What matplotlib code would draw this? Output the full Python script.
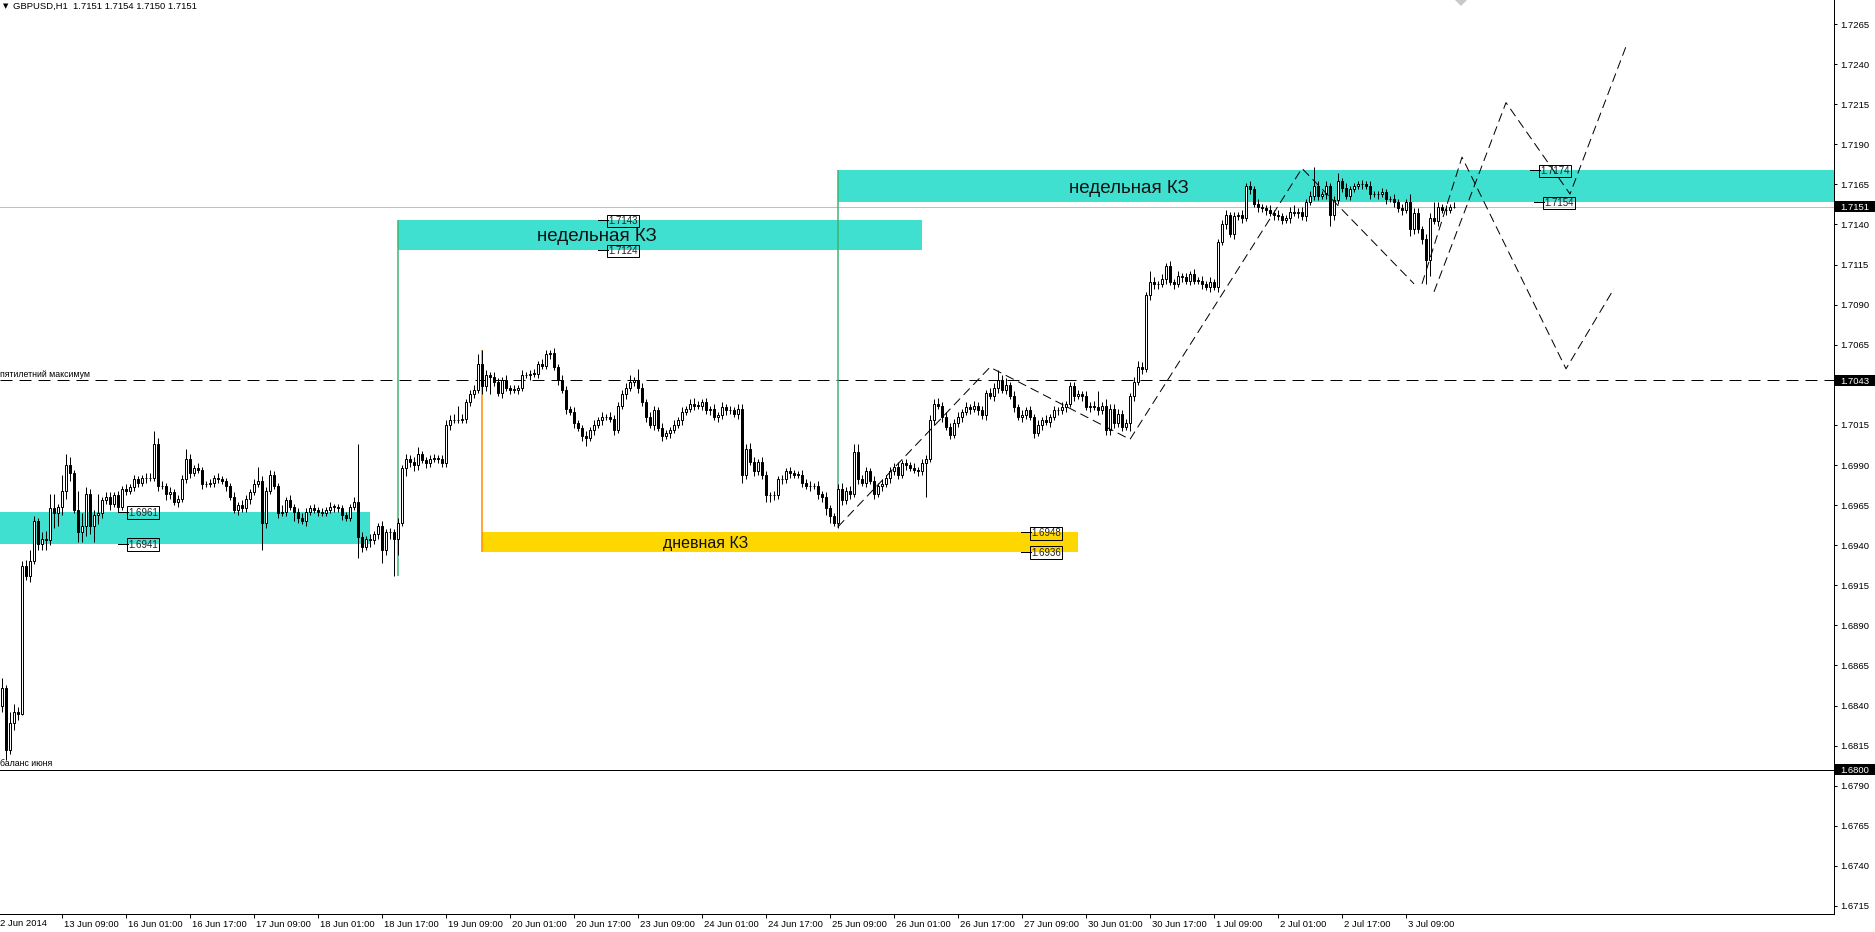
import numpy as np
import matplotlib
matplotlib.use('Agg')
import matplotlib.pyplot as plt
from matplotlib.patches import Rectangle, Polygon
from matplotlib.transforms import blended_transform_factory, ScaledTranslation

plt.rcParams['font.family'] = ['Liberation Sans', 'DejaVu Sans']

# GBPUSD H1, bar 0 = 12 Jun 17:00; prices in pips above 1.6800
base = 1.6800
first_open = 55
closes = [40, 51, 12, 29, 36, 35, 127, 121, 130, 155,
          141, 144, 143, 163, 160, 164, 174, 190, 185, 162,
          148, 152, 172, 152, 159, 160, 168, 170, 166, 171,
          164, 175, 174, 176, 181, 179, 182, 182, 182, 203,
          177, 177, 172, 173, 167, 169, 181, 194, 185, 188,
          187, 178, 178, 179, 182, 181, 180, 177, 170, 162,
          165, 163, 169, 173, 178, 180, 154, 174, 184, 177,
          160, 161, 168, 164, 161, 157, 155, 161, 163, 162,
          161, 160, 162, 164, 164, 163, 159, 157, 164, 167,
          145, 139, 144, 143, 147, 152, 137, 148, 148, 144,
          154, 188, 194, 192, 190, 197, 193, 191, 194, 194,
          194, 191, 215, 218, 218, 218, 219, 229, 234, 237,
          253, 239, 246, 245, 242, 235, 243, 238, 237, 237,
          238, 246, 246, 247, 247, 253, 252, 259, 260, 251,
          243, 237, 225, 223, 216, 213, 208, 207, 212, 215,
          218, 220, 220, 219, 212, 227, 234, 238, 242, 243,
          238, 229, 220, 215, 224, 213, 208, 210, 212, 215,
          218, 223, 225, 228, 227, 227, 229, 224, 225, 220,
          221, 226, 224, 224, 222, 225, 184, 200, 192, 186,
          192, 184, 171, 171, 171, 181, 181, 186, 185, 184,
          184, 179, 177, 177, 177, 172, 170, 163, 158, 154,
          175, 168, 174, 172, 198, 181, 179, 186, 180, 172,
          177, 178, 182, 186, 189, 184, 191, 190, 188, 187,
          186, 191, 194, 218, 228, 227, 220, 214, 209, 216,
          220, 223, 226, 225, 227, 224, 221, 235, 233, 238,
          243, 237, 240, 233, 226, 220, 221, 224, 220, 210,
          215, 218, 217, 220, 224, 224, 226, 228, 239, 233,
          234, 233, 226, 227, 226, 224, 227, 212, 225, 216,
          222, 214, 216, 233, 242, 251, 250, 296, 304, 303,
          303, 306, 314, 304, 303, 308, 307, 305, 309, 305,
          305, 303, 301, 304, 301, 329, 340, 346, 334, 345,
          346, 344, 364, 362, 353, 351, 350, 349, 347, 346,
          345, 343, 344, 348, 347, 348, 345, 354, 358, 364,
          358, 359, 364, 346, 355, 367, 363, 358, 362, 364,
          365, 365, 364, 359, 359, 359, 360, 356, 356, 354,
          350, 349, 354, 337, 347, 337, 331, 318, 344, 342,
          351, 349, 349, 351, 351]
# wick lengths beyond the body, pips
up_wick = [5, 6, 2, 7, 5, 3, 3, 4, 7, 3,
           2, 4, 5, 9, 9, 2, 10, 7, 5, 2,
           12, 8, 4, 3, 3, 12, 2, 3, 3, 2,
           3, 2, 3, 2, 3, 2, 2, 3, 3, 8,
           4, 3, 2, 3, 2, 2, 3, 6, 3, 2,
           3, 2, 2, 2, 2, 3, 2, 2, 2, 3,
           2, 3, 2, 2, 3, 9, 3, 2, 3, 2,
           2, 4, 2, 3, 2, 2, 3, 2, 2, 3,
           2, 2, 2, 3, 2, 2, 2, 2, 2, 3,
           36, 3, 2, 3, 2, 2, 3, 2, 3, 2,
           3, 2, 3, 2, 3, 4, 2, 2, 2, 3,
           2, 2, 3, 3, 4, 9, 3, 2, 3, 3,
           6, 9, 3, 2, 3, 2, 2, 3, 2, 3,
           2, 3, 2, 2, 3, 2, 3, 3, 2, 3,
           2, 3, 2, 2, 3, 2, 2, 3, 2, 3,
           2, 3, 2, 3, 2, 2, 3, 3, 4, 2,
           7, 3, 2, 3, 3, 2, 3, 2, 2, 3,
           2, 3, 2, 3, 4, 3, 2, 3, 2, 3,
           2, 3, 2, 3, 2, 3, 3, 3, 4, 3,
           2, 3, 2, 2, 3, 2, 3, 2, 3, 2,
           2, 3, 2, 3, 2, 3, 2, 3, 2, 2,
           3, 4, 2, 3, 5, 5, 3, 3, 2, 3,
           2, 3, 2, 3, 2, 3, 2, 3, 2, 3,
           2, 3, 2, 3, 3, 4, 2, 3, 2, 3,
           3, 2, 3, 2, 3, 2, 3, 2, 3, 3,
           6, 3, 4, 2, 3, 2, 3, 2, 3, 2,
           3, 2, 3, 2, 3, 2, 3, 2, 3, 3,
           3, 2, 3, 2, 3, 10, 2, 4, 3, 3,
           3, 2, 3, 2, 3, 4, 3, 2, 7, 3,
           2, 3, 2, 3, 2, 3, 2, 3, 2, 3,
           2, 3, 2, 3, 2, 2, 3, 3, 2, 3,
           2, 3, 2, 3, 2, 3, 2, 2, 3, 2,
           3, 2, 2, 3, 4, 2, 3, 2, 3, 12,
           3, 2, 3, 2, 3, 5, 2, 3, 2, 2,
           2, 3, 2, 3, 2, 2, 3, 2, 2, 3,
           2, 3, 2, 5, 3, 3, 2, 3, 3, 10,
           3, 2, 3, 2, 3]
dn_wick = [2, 4, 6, 2, 4, 4, 1, 3, 4, 2,
           4, 4, 6, 3, 9, 8, 5, 5, 5, 2,
           6, 6, 6, 5, 10, 6, 3, 2, 4, 2,
           3, 2, 3, 2, 2, 3, 2, 3, 2, 2,
           3, 2, 4, 3, 2, 3, 2, 2, 3, 2,
           2, 3, 2, 2, 3, 2, 2, 3, 2, 2,
           3, 2, 2, 3, 2, 2, 17, 3, 2, 2,
           3, 2, 3, 2, 6, 3, 2, 3, 2, 2,
           3, 2, 2, 2, 3, 2, 3, 2, 2, 2,
           13, 3, 2, 4, 2, 3, 8, 3, 4, 23,
           10, 2, 5, 3, 4, 3, 2, 3, 2, 2,
           3, 2, 2, 3, 2, 2, 2, 3, 2, 2,
           2, 5, 3, 11, 3, 2, 3, 2, 3, 2,
           3, 2, 2, 3, 2, 3, 2, 2, 3, 2,
           3, 2, 3, 2, 3, 2, 3, 5, 2, 3,
           2, 3, 2, 2, 3, 2, 2, 3, 2, 3,
           3, 2, 3, 2, 3, 2, 3, 2, 3, 2,
           2, 3, 2, 2, 3, 2, 3, 2, 3, 2,
           3, 2, 3, 2, 2, 3, 5, 3, 2, 3,
           2, 3, 4, 4, 3, 2, 3, 2, 3, 2,
           2, 3, 2, 3, 2, 3, 3, 4, 4, 2,
           3, 3, 2, 3, 2, 3, 2, 3, 2, 3,
           2, 3, 2, 3, 2, 3, 2, 3, 2, 2,
           3, 2, 21, 2, 3, 2, 3, 2, 3, 2,
           2, 3, 2, 3, 2, 3, 2, 3, 2, 3,
           3, 2, 3, 2, 3, 2, 3, 2, 2, 3,
           2, 3, 2, 3, 2, 3, 2, 3, 2, 3,
           2, 3, 2, 3, 2, 3, 2, 3, 3, 3,
           2, 3, 2, 5, 3, 2, 3, 2, 3, 3,
           3, 2, 3, 2, 3, 2, 3, 2, 3, 2,
           2, 3, 2, 3, 2, 3, 2, 3, 2, 3,
           2, 3, 2, 3, 2, 3, 2, 3, 2, 3,
           2, 3, 2, 3, 2, 3, 2, 3, 2, 3,
           3, 2, 3, 7, 3, 2, 3, 2, 3, 2,
           2, 3, 2, 3, 2, 3, 2, 3, 2, 3,
           2, 3, 2, 4, 3, 2, 3, 15, 10, 2,
           3, 2, 3, 2, 1]

time_labels = ['13 Jun 09:00', '16 Jun 01:00', '16 Jun 17:00', '17 Jun 09:00', '18 Jun 01:00',
               '18 Jun 17:00', '19 Jun 09:00', '20 Jun 01:00', '20 Jun 17:00', '23 Jun 09:00',
               '24 Jun 01:00', '24 Jun 17:00', '25 Jun 09:00', '26 Jun 01:00', '26 Jun 17:00',
               '27 Jun 09:00', '30 Jun 01:00', '30 Jun 17:00', '1 Jul 09:00', '2 Jul 01:00',
               '2 Jul 17:00', '3 Jul 09:00']

# zones (bar from, bar to, low, high)
zone_x0 = [-2, 100, 210, 121]
zone_x1 = [93, 231, 470, 270]
zone_lo = [1.6941, 1.7124, 1.7154, 1.6936]
zone_hi = [1.6961, 1.7143, 1.7174, 1.6948]
zone_color = ['#40E0D0', '#40E0D0', '#40E0D0', '#FFD700']
zone_text = ['', 'недельная КЗ', 'недельная КЗ', 'дневная КЗ']
zone_text_x = [0, 149.7, 282.8, 176.9]
zone_text_size = [0, 13.5, 13.5, 11.5]

vline_bar = [100, 210, 121]
vline_lo = [1.6921, 1.6951, 1.6936]
vline_hi = [1.7143, 1.7174, 1.7062]
vline_color = ['#3CB371', '#3CB371', '#FF8C00']

# zigzag projections (bar, price)
zz_main_x = [210, 248, 283, 326, 354]
zz_main_y = [1.69515, 1.7051, 1.7006, 1.7175, 1.7103]
zz_a_x = [356, 366, 392, 404]
zz_a_y = [1.7103, 1.7182, 1.7050, 1.7100]
zz_b_x = [359, 377, 393, 407]
zz_b_y = [1.7098, 1.7216, 1.7159, 1.7251]

# price labels of the zones
label_bar = [30, 30, 150, 150, 255.75, 255.75, 383, 384]
label_price = [1.6961, 1.6941, 1.7143, 1.7124, 1.6948, 1.6936, 1.7174, 1.7154]

closes = np.array(closes)
opens = np.concatenate([[first_open], closes[:-1]])
highs = np.maximum(opens, closes) + np.array(up_wick)
lows = np.minimum(opens, closes) - np.array(dn_wick)
o = base + opens / 10000
c = base + closes / 10000
h = base + highs / 10000
l = base + lows / 10000
bars = np.arange(len(closes))

px = 0.72
fig = plt.figure(figsize=(18.75, 9.32), dpi=100)
ax = fig.add_axes([0, 18 / 932, 1834 / 1875, 914 / 932])
ax.set_xlim(0.5, 459)
ax.set_ylim(1.6710, 1.7280)

for x0, x1, lo, hi, col, txt, tx, ts in zip(zone_x0, zone_x1, zone_lo, zone_hi, zone_color,
                                          zone_text, zone_text_x, zone_text_size):
    ax.add_patch(Rectangle((x0, lo), x1 - x0, hi - lo, facecolor=col, edgecolor='none', zorder=1))
    if txt:
        ax.text(tx, (lo + hi) / 2, txt, fontsize=ts, ha='center', va='center_baseline',
                color='#111111', zorder=6)

ax.axhline(1.7151, color='#C0C0C0', lw=px, zorder=2)
ax.axhline(1.7043, color='black', lw=px, ls=(0, (12, 7)), zorder=2)
ax.axhline(1.6800, color='black', lw=px, zorder=2)
ax.vlines(vline_bar, vline_lo, vline_hi, colors=vline_color, lw=1.5 * px, zorder=2)

ax.annotate('пятилетний максимум', xy=(0, 1.7043), xycoords=('axes fraction', 'data'),
            xytext=(0, 1), textcoords='offset points', fontsize=6.3, va='bottom', ha='left')
ax.annotate('баланс июня', xy=(0, 1.6800), xycoords=('axes fraction', 'data'),
            xytext=(0, 1), textcoords='offset points', fontsize=6.3, va='bottom', ha='left')

# candles
ax.vlines(bars, l, h, colors='black', lw=px, zorder=3)
faces = ['white' if cc > oo else 'black' for oo, cc in zip(o, c)]
ax.bar(bars, np.maximum(np.abs(c - o), 0.00002), bottom=np.minimum(o, c), width=0.65,
       color=faces, edgecolor='black', lw=px, zorder=4)

for xs, ys in [(zz_main_x, zz_main_y), (zz_a_x, zz_a_y), (zz_b_x, zz_b_y)]:
    ax.plot(xs, ys, color='black', lw=px, ls=(0, (9, 5)), zorder=5)

for bx, pr in zip(label_bar, label_price):
    ax.plot([bx, bx + 2.5], [pr, pr], color='black', lw=px, zorder=6)
    ax.text(bx + 2.6, pr, f'{pr:.4f}', fontsize=7, ha='left', va='center_baseline', zorder=6,
            color='#222222', bbox=dict(boxstyle='square,pad=0.12', fc='none', ec='black', lw=px))

# axes look
for s in ['top', 'left']:
    ax.spines[s].set_visible(False)
for s in ['right', 'bottom']:
    ax.spines[s].set_linewidth(px)
ax.yaxis.tick_right()
yt = [1.7265 - 0.0025 * k for k in range(23)]
ax.set_yticks(yt)
# the 1.7040 label sits under the 1.7043 tag
ax.set_yticklabels(['' if abs(v - 1.7040) < 1e-6 else f'{v:.4f}' for v in yt])
ax.tick_params(axis='y', direction='out', length=2.5, width=px, pad=2, labelsize=6.8)
ax.set_xticks([16 * (k + 1) for k in range(len(time_labels))])
ax.set_xticklabels(time_labels, ha='left')
ax.tick_params(axis='x', direction='out', length=3, width=px, pad=1.5, labelsize=6.8)
off = ScaledTranslation(2 / 100, 0, fig.dpi_scale_trans)
for lbl in ax.get_xticklabels():
    lbl.set_transform(lbl.get_transform() + off)
ax.annotate('2 Jun 2014', xy=(0, 0), xycoords='axes fraction', xytext=(0, -3.6),
            textcoords='offset points', fontsize=6.8, va='top', ha='left')

# black price tags on the right scale
trans = blended_transform_factory(ax.transAxes, ax.transData)
tag_h = 11 * 0.0570 / 914
for pr in [1.7151, 1.7043, 1.6800]:
    ax.add_patch(Rectangle((1.0005, pr - tag_h / 2), 42 / 1834, tag_h, transform=trans,
                           facecolor='black', edgecolor='none', clip_on=False, zorder=10))
    ax.text(1.0 + 6 / 1834, pr, f'{pr:.4f}', transform=trans, color='white', fontsize=6.8,
            ha='left', va='center_baseline', zorder=11, clip_on=False)

fig.text(3 / 1875, 1 - 6 / 932, '▼', fontsize=5, family='DejaVu Sans', va='center')
fig.text(13 / 1875, 1 - 6 / 932, 'GBPUSD,H1  1.7151 1.7154 1.7150 1.7151', fontsize=6.8,
         va='center')
fig.patches.append(Polygon([[1455 / 1875, 1], [1467 / 1875, 1], [1461 / 1875, 1 - 6 / 932]],
                           closed=True, transform=fig.transFigure, facecolor='#C8C8C8',
                           edgecolor='none'))

fig.savefig('out.png', dpi=100)
